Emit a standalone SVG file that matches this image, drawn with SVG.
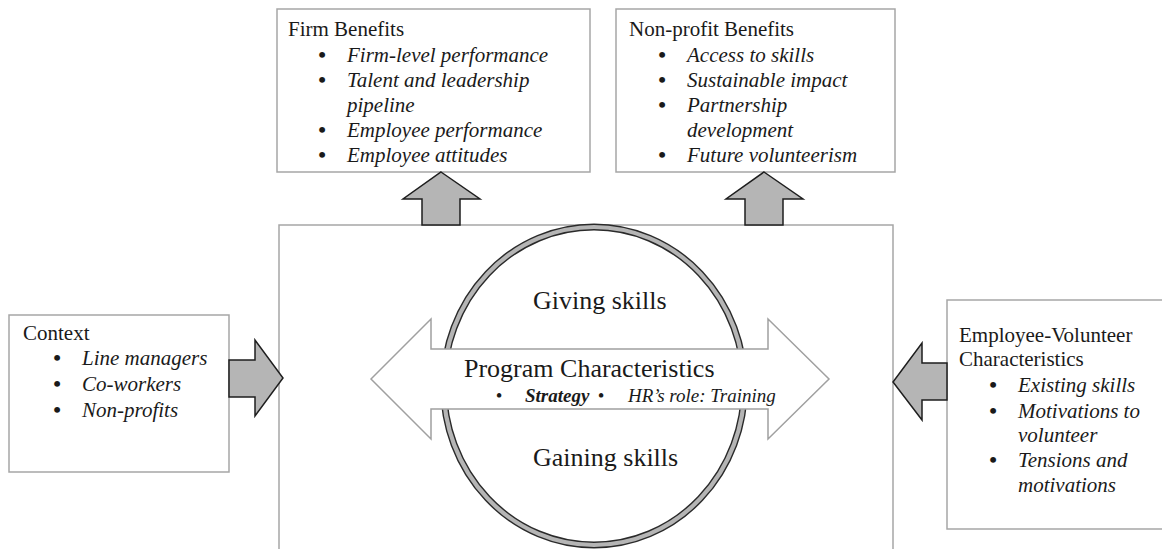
<svg xmlns="http://www.w3.org/2000/svg" width="1162" height="549" viewBox="0 0 1162 549">
<style>
text{font-family:"Liberation Serif","Times New Roman",serif;fill:#1a1a1a}
.t{font-size:21px}
.i{font-size:21px;font-style:italic}
.bl{font-size:22px;font-style:normal;font-weight:bold;text-anchor:middle}
.tx{text-anchor:start}
.box{fill:#fff;stroke:#a6a6a6;stroke-width:1.5}
.fat{fill:#b5b5b5;stroke:#1e1e1e;stroke-width:1.5;stroke-linejoin:miter}
.big{font-size:26px}
.sm{font-size:19px}
</style>
<rect width="1162" height="549" fill="#fff"/>

<g id="program-box">
<rect class="box" x="279" y="225" width="614" height="340"/>
</g>

<g id="skills-ellipse">
<ellipse cx="594" cy="386" rx="150.5" ry="159" fill="none" stroke="#2a2a2a" stroke-width="7"/>
<ellipse cx="594" cy="386" rx="150.5" ry="159" fill="none" stroke="#b5b5b5" stroke-width="4.2"/>
<text class="big" x="533" y="309">Giving skills</text>
<text class="big" x="533" y="466">Gaining skills</text>
</g>

<g id="program-characteristics">
<polygon points="371,379 431,319 431,349 768,349 768,319 829,379 768,439 768,409 431,409 431,439" fill="#fff" stroke="#a0a0a0" stroke-width="1.5"/>
<text class="big" x="464" y="377">Program Characteristics</text>
<text class="sm" y="402"><tspan x="499" style="text-anchor:middle">•</tspan><tspan x="525" style="font-style:italic;font-weight:bold">Strategy</tspan><tspan x="601" style="text-anchor:middle">•</tspan><tspan x="628" style="font-style:italic">HR’s role: Training</tspan></text>
</g>

<g id="firm-benefits">
<rect class="box" x="277" y="9" width="313" height="163"/>
<text class="t" x="288" y="36">Firm Benefits</text>
<text class="i" y="61.5"><tspan class="bl" x="322">•</tspan><tspan class="tx" x="347">Firm-level performance</tspan></text>
<text class="i" y="86.5"><tspan class="bl" x="322">•</tspan><tspan class="tx" x="347">Talent and leadership</tspan></text>
<text class="i" x="347" y="111.5">pipeline</text>
<text class="i" y="137"><tspan class="bl" x="322">•</tspan><tspan class="tx" x="347">Employee performance</tspan></text>
<text class="i" y="162"><tspan class="bl" x="322">•</tspan><tspan class="tx" x="347">Employee attitudes</tspan></text>
</g>

<g id="nonprofit-benefits">
<rect class="box" x="616" y="9" width="279" height="163"/>
<text class="t" x="629" y="36">Non-profit Benefits</text>
<text class="i" y="61.5"><tspan class="bl" x="662">•</tspan><tspan class="tx" x="687">Access to skills</tspan></text>
<text class="i" y="86.5"><tspan class="bl" x="662">•</tspan><tspan class="tx" x="687">Sustainable impact</tspan></text>
<text class="i" y="111.5"><tspan class="bl" x="662">•</tspan><tspan class="tx" x="687">Partnership</tspan></text>
<text class="i" x="687" y="137">development</text>
<text class="i" y="162"><tspan class="bl" x="662">•</tspan><tspan class="tx" x="687">Future volunteerism</tspan></text>
</g>

<g id="context">
<rect class="box" x="9" y="315" width="220" height="157"/>
<text class="t" x="23" y="340">Context</text>
<text class="i" y="365"><tspan class="bl" x="57">•</tspan><tspan class="tx" x="82">Line managers</tspan></text>
<text class="i" y="391"><tspan class="bl" x="57">•</tspan><tspan class="tx" x="82">Co-workers</tspan></text>
<text class="i" y="417"><tspan class="bl" x="57">•</tspan><tspan class="tx" x="82">Non-profits</tspan></text>
</g>

<g id="employee-volunteer">
<rect class="box" x="947" y="300" width="225" height="229"/>
<text class="t" x="959" y="342">Employee-Volunteer</text>
<text class="t" x="959" y="366">Characteristics</text>
<text class="i" y="392"><tspan class="bl" x="993">•</tspan><tspan class="tx" x="1018">Existing skills</tspan></text>
<text class="i" y="418"><tspan class="bl" x="993">•</tspan><tspan class="tx" x="1018">Motivations to</tspan></text>
<text class="i" x="1018" y="442">volunteer</text>
<text class="i" y="467"><tspan class="bl" x="993">•</tspan><tspan class="tx" x="1018">Tensions and</tspan></text>
<text class="i" x="1018" y="492">motivations</text>
</g>

<g id="connectors">
<polygon class="fat" points="441,172 480,199 460,199 460,225 422,225 422,199 403,199"/>
<polygon class="fat" points="764,172 803,199 783,199 783,225 745,225 745,199 726,199"/>
<polygon class="fat" points="229,360 255,360 255,340 283,378 255,416 255,397 229,397"/>
<polygon class="fat" points="947,363 922,363 922,343 893,382 922,420 922,400 947,400"/>
</g>
</svg>
